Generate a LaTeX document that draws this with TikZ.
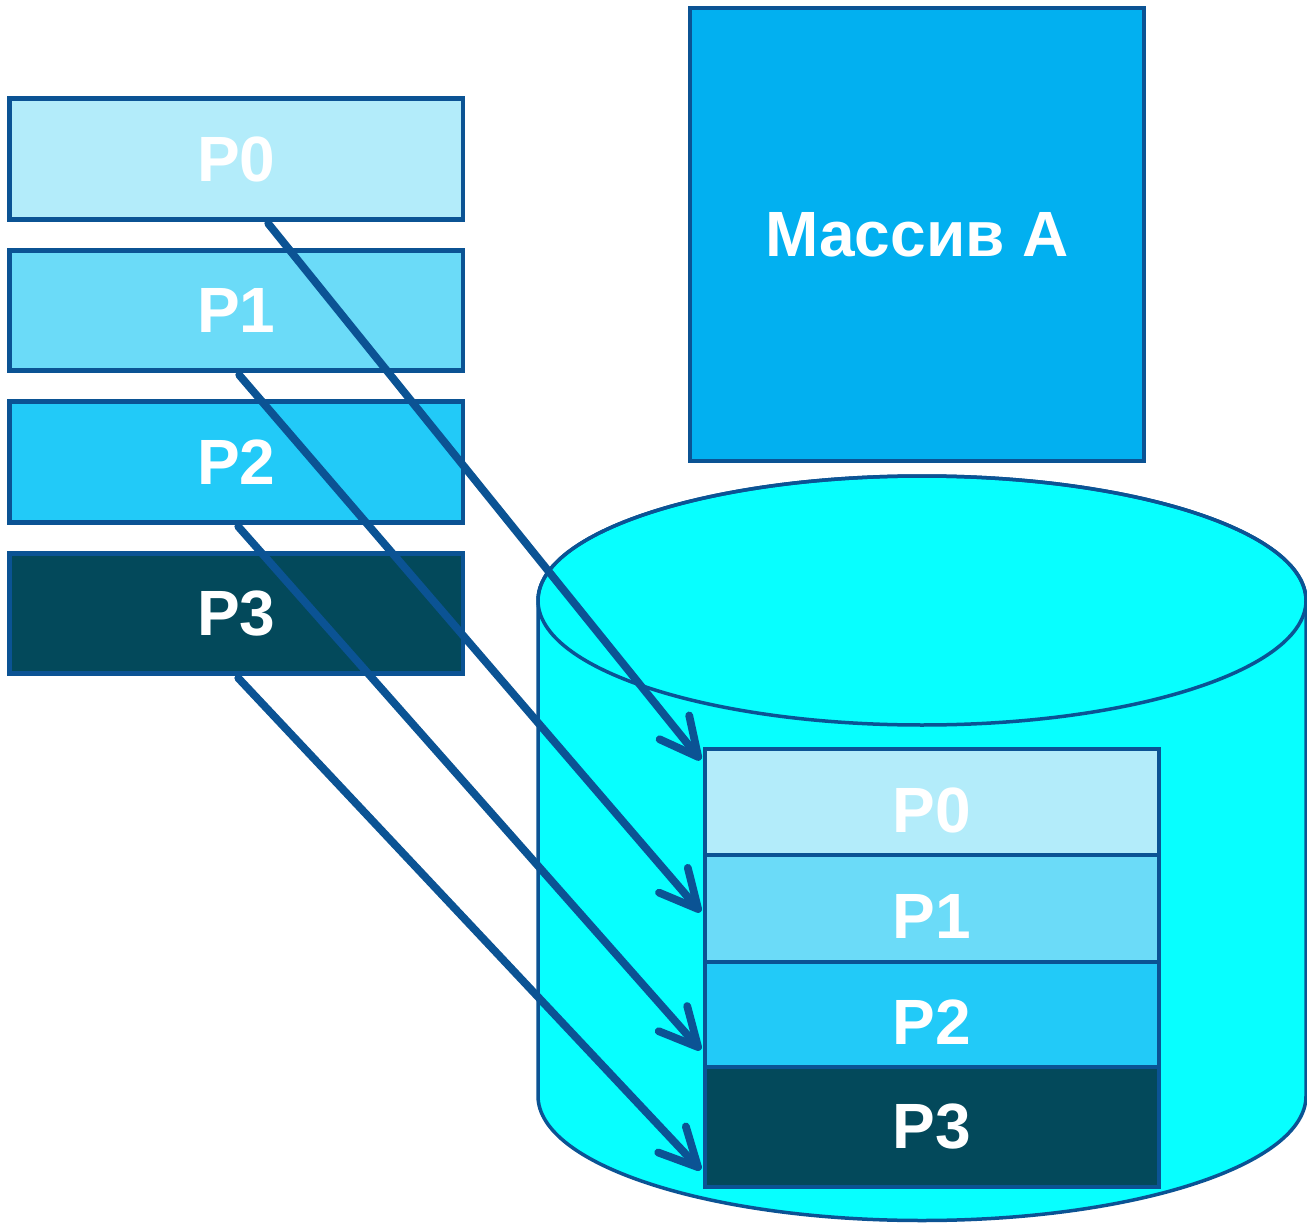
\documentclass[tikz,border=0pt]{standalone}
\usepackage{fontspec}
\setmainfont{Liberation Sans}
\usetikzlibrary{arrows.meta}

\definecolor{edge}{HTML}{0B5394}
\definecolor{drum}{HTML}{07FFFF}
\definecolor{partA}{HTML}{B3ECFA}
\definecolor{partB}{HTML}{6BDBF8}
\definecolor{partC}{HTML}{22CAF8}
\definecolor{partD}{HTML}{03495B}
\definecolor{arrayfill}{HTML}{02B0F0}

\begin{document}
\begin{tikzpicture}[x=0.5pt,y=-0.5pt,
  part/.style={draw=edge, line width=2.3pt, inner sep=0pt, text=white,
    font=\bfseries\fontsize{32}{32}\selectfont},
  srcpart/.style={part, minimum width=226.75pt, minimum height=60.25pt},
  dstpart/.style={part, minimum width=227pt},
  lowered/.style={text height=30pt, text depth=0pt},
  link/.style={draw=edge, line width=3.9pt, line cap=round,
    -{Straight Barb[length=19pt,width=19pt,round]}}]
\useasboundingbox (0,0) rectangle (1307,1225);

% storage drum
\path[draw=edge, fill=drum, line width=1.75pt]
  (538,600.5) -- (538,1096)
  arc[start angle=180, end angle=0, x radius=384, y radius=124.5]
  -- (1306,600.5)
  arc[start angle=0, end angle=-180, x radius=384, y radius=124.5] -- cycle;
\draw[edge, line width=1.75pt] (922,600.5) ellipse[x radius=384, y radius=124.5];

% the whole array
\node[part, fill=arrayfill, minimum width=227pt, minimum height=226.5pt]
  (arr) at (917,234.5) {Массив А};

% parts stored in the drum
\node[dstpart, fill=partA, minimum height=53pt, lowered]   (r0) at (932,802)    {P0};
\node[dstpart, fill=partB, minimum height=53.5pt, lowered] (r1) at (932,908.5)  {P1};
\node[dstpart, fill=partC, minimum height=52.5pt, lowered] (r2) at (932,1014.5) {P2};
\node[dstpart, fill=partD, minimum height=60pt]            (r3) at (932,1127)   {P3};

% parts held by the processes
\node[srcpart, fill=partA] (l0) at (236.25,159)   {P0};
\node[srcpart, fill=partB] (l1) at (236.25,310.5) {P1};
\node[srcpart, fill=partC] (l2) at (236.25,462)   {P2};
\node[srcpart, fill=partD] (l3) at (236.25,613.5) {P3};

% writes
\draw[link] ([xshift=16pt,yshift=-1pt]l0.south) -- ([xshift=-1pt,yshift=21pt]r0.west);
\draw[link] ([xshift=1.5pt,yshift=-1pt]l1.south) -- ([xshift=-1pt,yshift=-1.75pt]r1.west);
\draw[link] ([xshift=1pt,yshift=-1pt]l2.south) -- ([xshift=-1pt,yshift=-17.75pt]r2.west);
\draw[link] ([xshift=1pt,yshift=-1pt]l3.south) -- ([xshift=-1pt,yshift=-21.5pt]r3.west);
\end{tikzpicture}
\end{document}
